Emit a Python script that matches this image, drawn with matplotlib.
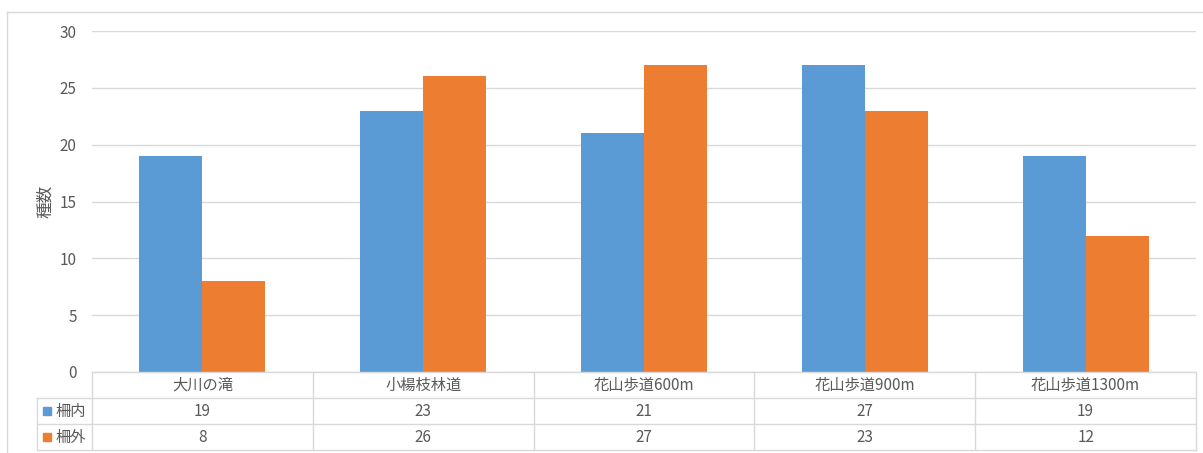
import numpy as np
import matplotlib
matplotlib.use("Agg")
from matplotlib import pyplot as plt
from matplotlib.lines import Line2D
from matplotlib.patches import Rectangle
import matplotlib.transforms as mtransforms

plt.rcParams['font.family'] = ['Noto Sans CJK JP', 'DejaVu Sans']

categories = ['大川の滝', '小楊枝林道', '花山歩道600m', '花山歩道900m', '花山歩道1300m']
series_names = ['柵内', '柵外']
inside = [19, 23, 21, 27, 19]
outside = [8, 26, 27, 23, 12]
yticks = [0, 5, 10, 15, 20, 25, 30]

colors = ['#5B9BD5', '#ED7D31']
txtcol = '#595959'
gridcol = '#D9D9D9'
fs = 11

W, H = 1203, 453
fig = plt.figure(figsize=(W / 100, H / 100), dpi=100)

# plot area in pixels
x0, x1 = 92, 1196
ytop, ybot = 31, 372
ax = fig.add_axes([x0 / W, (H - ybot) / H, (x1 - x0) / W, (ybot - ytop) / H])

x = np.arange(len(categories))
bw = 1 / 3.5
ax.bar(x - bw / 2, inside, bw, color=colors[0], zorder=2)
ax.bar(x + bw / 2, outside, bw, color=colors[1], zorder=2)

ax.set_xlim(-0.5, len(categories) - 0.5)
ax.set_ylim(0, 30)
ax.set_yticks(yticks)
ax.set_xticks([])
ax.grid(axis='y', color=gridcol, linewidth=1, zorder=0)
for s in ax.spines.values():
    s.set_visible(False)
ax.tick_params(axis='y', length=0, pad=11, labelsize=fs, labelcolor=txtcol)
ax.set_ylabel('種数', fontsize=fs + 1, color=txtcol)
ax.yaxis.set_label_coords((54 - x0) / (x1 - x0), 0.5)

# data table below axes
rh = 26 / (ybot - ytop)
trans = mtransforms.blended_transform_factory(ax.transData, ax.transAxes)
left = -0.5 - (x0 - 37) / ((x1 - x0) / len(categories))
n = len(categories)

def hline(xa, xb, y):
    ax.add_line(Line2D([xa, xb], [y, y], transform=trans, color=gridcol,
                       linewidth=1, clip_on=False))

def vline(xx, ya, yb):
    ax.add_line(Line2D([xx, xx], [ya, yb], transform=trans, color=gridcol,
                       linewidth=1, clip_on=False))

hline(-0.5, n - 0.5, 0)
hline(left, n - 0.5, -rh)
hline(left, n - 0.5, -2 * rh)
hline(left, n - 0.5, -3 * rh)
vline(left, -rh, -3 * rh)
for b in np.arange(-0.5, n, 1.0):
    vline(b, 0, -3 * rh)

for i, c in enumerate(categories):
    ax.text(i, -0.5 * rh, c, transform=trans, ha='center', va='center',
            fontsize=fs, color=txtcol)
    ax.text(i, -1.5 * rh, str(inside[i]), transform=trans, ha='center',
            va='center', fontsize=fs, color=txtcol)
    ax.text(i, -2.5 * rh, str(outside[i]), transform=trans, ha='center',
            va='center', fontsize=fs, color=txtcol)

for j, name in enumerate(series_names):
    yc = H - (398 + 26 * j + 13)
    fig.add_artist(Rectangle((43 / W, (yc - 4) / H), 8 / W, 8 / H,
                             transform=fig.transFigure, color=colors[j]))
    fig.text(55 / W, yc / H, name, ha='left', va='center', fontsize=fs,
             color=txtcol)

# chart frame
fig.add_artist(Line2D([7 / W, 7 / W], [0, (H - 12) / H], transform=fig.transFigure,
                      color=gridcol, linewidth=1))
fig.add_artist(Line2D([7 / W, 1], [(H - 12) / H, (H - 12) / H],
                      transform=fig.transFigure, color=gridcol, linewidth=1))

fig.savefig('out.png', dpi=100)
